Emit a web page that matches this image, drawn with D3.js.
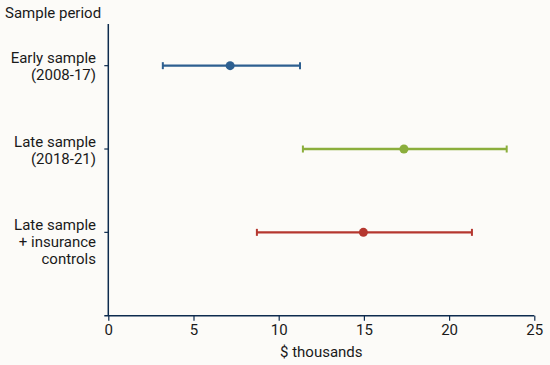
<!DOCTYPE html>
<html><head><meta charset="utf-8">
<script src="https://cdn.jsdelivr.net/npm/d3@7"></script>
<style>body{margin:0;background:#fcfbf8;}svg{display:block;font-family:Roboto,sans-serif;}</style>
</head><body>
<svg id="c" width="550" height="365"></svg>
<script>
const categories = [["Early sample","(2008-17)"],["Late sample","(2018-21)"],["Late sample","+ insurance","controls"]];
const estimates = [7.15, 17.35, 14.97];
const lowerBounds = [3.2, 11.42, 8.72];
const upperBounds = [11.25, 23.38, 21.34];
const colors = ["#2d5f90","#8bae3c","#b5372f"];
const xTicks = [0,5,10,15,20,25];

const svg = d3.select("#c");
svg.append("rect").attr("width",550).attr("height",365).attr("fill","#fcfbf8");
const axisColor = "#0d2b4e";
const fs = 15;
const x = d3.scaleLinear().domain([0,25]).range([108.3,534.3]);
const y = d3.scaleLinear().domain([-0.5,3]).range([24,315.7]);

svg.append("line").attr("x1",x(0)).attr("x2",x(0)).attr("y1",y(-0.5)).attr("y2",y(3))
  .attr("stroke",axisColor).attr("stroke-width",1.5);
const xa = svg.append("g").attr("transform",`translate(0,${y(3)})`)
  .call(d3.axisBottom(x).tickValues(xTicks).tickSize(5).tickSizeOuter(0).tickPadding(4));
xa.select(".domain").attr("stroke",axisColor).attr("stroke-width",1.5).attr("d",`M${x(0)-4},0H${x(25)}`);
xa.selectAll(".tick line").attr("stroke",axisColor).attr("stroke-width",1.2);
xa.selectAll(".tick text").attr("font-size",fs).attr("fill","#1a1a1a").attr("font-family","Roboto,sans-serif");
svg.append("text").attr("x",(x(0)+x(25))/2).attr("y",357).attr("text-anchor","middle")
  .attr("font-size",fs).attr("fill","#1a1a1a").text("$ thousands");

categories.forEach((lines,i)=>{
  const cy = y(i);
  svg.append("line").attr("x1",x(0)-4).attr("x2",x(0)).attr("y1",cy).attr("y2",cy)
    .attr("stroke",axisColor).attr("stroke-width",1.2);
  const t = svg.append("text").attr("text-anchor","end").attr("font-size",fs).attr("fill","#1a1a1a");
  lines.forEach((l,j)=>{
    t.append("tspan").attr("x",96).attr("y",cy - 2.5 + j*17).text(l);
  });
});
svg.append("text").attr("x",5).attr("y",18).attr("font-size",fs).attr("fill","#1a1a1a").text("Sample period");

estimates.forEach((v,i)=>{
  const cy = y(i), c = colors[i];
  svg.append("line").attr("x1",x(lowerBounds[i])).attr("x2",x(upperBounds[i])).attr("y1",cy).attr("y2",cy)
    .attr("stroke",c).attr("stroke-width",2.4);
  [lowerBounds[i],upperBounds[i]].forEach(b=>{
    svg.append("line").attr("x1",x(b)).attr("x2",x(b)).attr("y1",cy-3.5).attr("y2",cy+3.5)
      .attr("stroke",c).attr("stroke-width",2);
  });
  svg.append("circle").attr("cx",x(v)).attr("cy",cy).attr("r",4.5).attr("fill",c);
});
</script>
</body></html>
